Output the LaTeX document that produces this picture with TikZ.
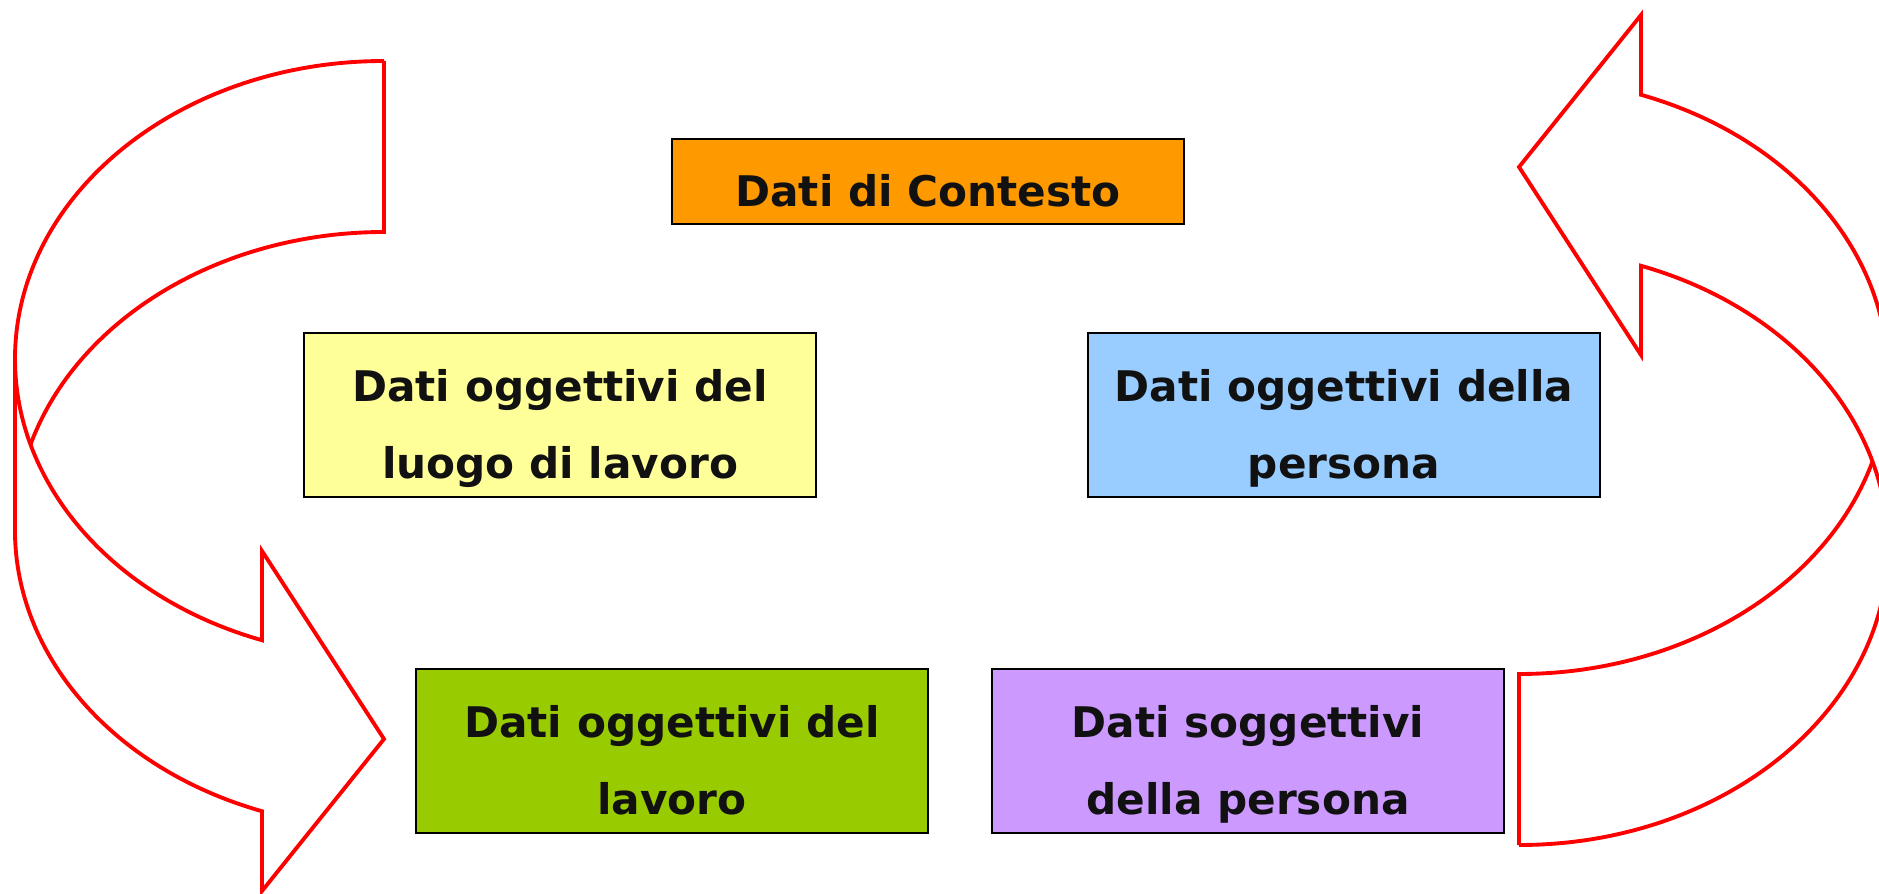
\documentclass[tikz,border=0pt]{standalone}
\usepackage{fontspec}
\setmainfont{DejaVu Sans}

\definecolor{contestocol}{HTML}{FF9900}
\definecolor{luogocol}{HTML}{FFFF99}
\definecolor{personacol}{HTML}{99CCFF}
\definecolor{lavorocol}{HTML}{99CC00}
\definecolor{soggcol}{HTML}{CC99FF}
\definecolor{textcol}{HTML}{111111}

\tikzset{
  databox/.style={draw=black, line width=0.6pt, minimum width=5.12cm,
    minimum height=1.64cm, inner sep=0pt, align=center, text=textcol,
    font=\fontsize{12}{21.8}\selectfont\bfseries,
    text height=36pt, text depth=0pt},
  arrowline/.style={draw=red, line width=1.1pt},
}

% curved block arrow, flat end top right, head bottom right
\newcommand{\bentarrow}{%
  \draw[arrowline] (384,832)
    arc[start angle=90, end angle=250.7, x radius=369, y radius=298]
    -- (262,342) -- (384,154) -- (262,2) -- (262,81.8)
    arc[start angle=250.7, end angle=180, x radius=369, y radius=298]
    -- (15,534);
  \draw[arrowline] (384,832) -- (384,661)
    arc[start angle=90, end angle=163.3, x radius=369, y radius=298];
}

\begin{document}
\begin{tikzpicture}[x=0.01cm, y=0.01cm]
\useasboundingbox (0,0) rectangle (1879,893);
\clip (0,0) rectangle (1879,893);

% the two arrows
\bentarrow
\begin{scope}[rotate around={180:(951.5,440)}]
  \bentarrow
\end{scope}

% boxes
\node[databox, fill=contestocol, minimum height=0.85cm, text height=14.3pt]
  (contesto) at (928,711.5) {Dati di Contesto};
\node[databox, fill=luogocol] (luogo) at (560,478) {Dati oggettivi del\\luogo di lavoro};
\node[databox, fill=personacol] (persona) at (1344,478) {Dati oggettivi della\\persona};
\node[databox, fill=lavorocol] (lavoro) at (672,142) {Dati oggettivi del\\lavoro};
\node[databox, fill=soggcol] (soggettivi) at (1248,142) {Dati soggettivi\\della persona};
\end{tikzpicture}
\end{document}
